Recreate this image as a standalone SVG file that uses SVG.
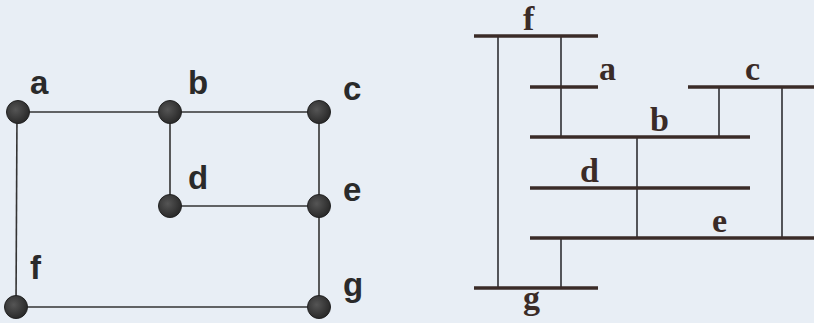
<svg xmlns="http://www.w3.org/2000/svg" width="814" height="323" viewBox="0 0 814 323">
<defs>
<radialGradient id="ng" cx="0.4" cy="0.4" r="0.6">
<stop offset="0" stop-color="#555"/>
<stop offset="1" stop-color="#2a2a2a"/>
</radialGradient>
<style>
.edge{stroke:#333;stroke-width:1.6;fill:none}
.node{fill:url(#ng);stroke:#222;stroke-width:1}
.lbl{font-family:"Liberation Sans",Arial,sans-serif;font-weight:bold;font-size:33px;fill:#2a2a2a}
.bar{stroke:#3a2b27;stroke-width:3.5;fill:none}
.vl{stroke:#2e2e33;stroke-width:1.6;fill:none}
.tl{font-family:"Liberation Serif","Times New Roman",serif;font-weight:bold;font-size:34px;fill:#3a2b27}
</style>
</defs>
<rect width="814" height="323" fill="#e8eef5"/>
<g id="graph-edges">
<line class="edge" x1="18" y1="112" x2="170" y2="112"/>
<line class="edge" x1="170" y1="112" x2="319" y2="112"/>
<line class="edge" x1="17" y1="112" x2="16" y2="307"/>
<line class="edge" x1="170" y1="112" x2="170" y2="206"/>
<line class="edge" x1="170" y1="206" x2="319" y2="206"/>
<line class="edge" x1="319" y1="112" x2="319" y2="206"/>
<line class="edge" x1="319" y1="206" x2="319" y2="307"/>
<line class="edge" x1="16" y1="307" x2="319" y2="307"/>
</g>
<g id="node-a"><circle class="node" cx="18" cy="112" r="11.5"/><text class="lbl" x="30" y="94">a</text></g>
<g id="node-b"><circle class="node" cx="170" cy="112" r="11.5"/><text class="lbl" x="188" y="94">b</text></g>
<g id="node-c"><circle class="node" cx="319" cy="112" r="11.5"/><text class="lbl" x="343" y="100">c</text></g>
<g id="node-d"><circle class="node" cx="170" cy="206" r="11.5"/><text class="lbl" x="188" y="189">d</text></g>
<g id="node-e"><circle class="node" cx="319" cy="206" r="11.5"/><text class="lbl" x="343" y="201">e</text></g>
<g id="node-f"><circle class="node" cx="16" cy="307" r="11.5"/><text class="lbl" x="30" y="279">f</text></g>
<g id="node-g"><circle class="node" cx="319" cy="307" r="11.5"/><text class="lbl" x="343" y="296">g</text></g>
<g id="bar-edges">
<line class="vl" x1="498" y1="36" x2="498" y2="288"/>
<line class="vl" x1="561" y1="36" x2="561" y2="137"/>
<line class="vl" x1="719" y1="87" x2="719" y2="137"/>
<line class="vl" x1="782" y1="87" x2="782" y2="238"/>
<line class="vl" x1="637" y1="137" x2="637" y2="238"/>
<line class="vl" x1="561" y1="238" x2="561" y2="288"/>
</g>
<g id="bar-f"><line class="bar" x1="474" y1="36" x2="598" y2="36"/><text class="tl" x="523" y="30">f</text></g>
<g id="bar-a"><line class="bar" x1="530" y1="87" x2="598" y2="87"/><text class="tl" x="599" y="80">a</text></g>
<g id="bar-c"><line class="bar" x1="688" y1="87" x2="814" y2="87"/><text class="tl" x="745" y="80">c</text></g>
<g id="bar-b"><line class="bar" x1="530" y1="137" x2="750" y2="137"/><text class="tl" x="650" y="131">b</text></g>
<g id="bar-d"><line class="bar" x1="530" y1="188" x2="750" y2="188"/><text class="tl" x="580" y="182">d</text></g>
<g id="bar-e"><line class="bar" x1="530" y1="238" x2="814" y2="238"/><text class="tl" x="712" y="232">e</text></g>
<g id="bar-g"><line class="bar" x1="474" y1="288" x2="598" y2="288"/><text class="tl" x="523" y="309">g</text></g>
</svg>
